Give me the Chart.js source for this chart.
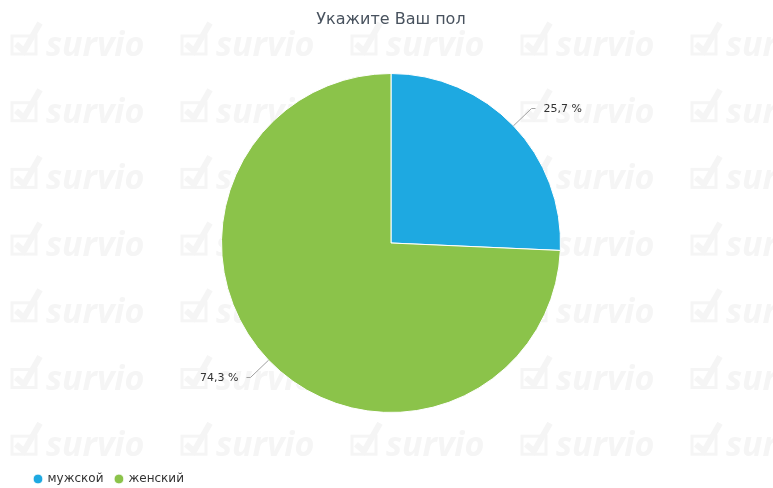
<!DOCTYPE html>
<html><head><meta charset="utf-8">
<script src="https://cdn.jsdelivr.net/npm/chart.js@4/dist/chart.umd.min.js"></script>
<style>html,body{margin:0;padding:0;background:#fff}#wrap{width:773px;height:488px}</style>
</head><body><div id="wrap"><canvas id="c" width="773" height="488"></canvas></div>
<script>
const categories = ['мужской', 'женский'];
const values = [25.7, 74.3];
const sliceColors = ['#1ea9e1', '#8bc34a'];
const titleText = 'Укажите Ваш пол';

const watermark = {
  id: 'watermark',
  beforeDraw(chart) {
    const ctx = chart.ctx;
    ctx.save();
    ctx.fillStyle = '#fff';
    ctx.fillRect(0, 0, chart.width, chart.height);
    ctx.fillStyle = '#f5f5f5';
    ctx.strokeStyle = '#f5f5f5';
    ctx.font = 'italic bold 34px "Open Sans", sans-serif';
    ctx.textBaseline = 'alphabetic';
    for (let r = 0; r < 7; r++) {
      const by = 56 + r * 66.7;
      for (let c = 0; c < 5; c++) {
        const bx = 10 + c * 170;
        ctx.lineWidth = 3;
        ctx.strokeRect(bx + 2, by - 20, 24, 18);
        ctx.lineWidth = 6;
        ctx.beginPath();
        ctx.moveTo(bx + 6, by - 12);
        ctx.lineTo(bx + 14, by - 5);
        ctx.lineTo(bx + 30, by - 33);
        ctx.stroke();
        ctx.fillText('survio', bx + 36, by);
      }
    }
    ctx.restore();
  }
};

const pieLabels = {
  id: 'pieLabels',
  afterDatasetsDraw(chart) {
    const ctx = chart.ctx;
    const meta = chart.getDatasetMeta(0);
    ctx.save();
    meta.data.forEach((arc, i) => {
      const p = arc.getProps(['x', 'y', 'startAngle', 'endAngle', 'outerRadius'], true);
      const mid = (p.startAngle + p.endAngle) / 2;
      const cs = Math.cos(mid), sn = Math.sin(mid);
      const x0 = p.x + cs * p.outerRadius, y0 = p.y + sn * p.outerRadius;
      const x1 = p.x + cs * (p.outerRadius + 25), y1 = p.y + sn * (p.outerRadius + 25);
      const right = cs >= 0;
      const x2 = x1 + (right ? 4 : -4);
      ctx.strokeStyle = '#a0a0a0';
      ctx.lineWidth = 1;
      ctx.beginPath();
      ctx.moveTo(x0, y0);
      ctx.lineTo(x1, y1);
      ctx.lineTo(x2, y1);
      ctx.stroke();
      ctx.fillStyle = '#333';
      ctx.font = '11px "DejaVu Sans", sans-serif';
      ctx.textBaseline = 'middle';
      ctx.textAlign = right ? 'left' : 'right';
      const txt = chart.data.datasets[0].data[i].toFixed(1).replace('.', ',') + ' %';
      ctx.fillText(txt, x2 + (right ? 8 : -8), y1 + 1);
    });
    ctx.restore();
  }
};

new Chart(document.getElementById('c'), {
  type: 'pie',
  data: {
    labels: categories,
    datasets: [{
      data: values,
      backgroundColor: sliceColors,
      borderColor: '#ffffff',
      borderWidth: 1
    }]
  },
  options: {
    responsive: false,
    devicePixelRatio: 1,
    animation: false,
    layout: { padding: { left: 22.5, right: 13.5, top: 0, bottom: -7 } },
    plugins: {
      title: {
        display: true,
        text: titleText,
        color: '#48525e',
        font: { family: '"DejaVu Sans", sans-serif', size: 16, weight: 'normal' },
        padding: { top: 10.5, bottom: 43.3 }
      },
      legend: {
        display: true,
        position: 'bottom',
        align: 'start',
        title: { display: true, text: ' ', font: { size: 12 }, padding: { top: 0, bottom: 33.6 } },
        labels: {
          usePointStyle: true,
          pointStyle: 'circle',
          boxWidth: 7,
          boxHeight: 7,
          padding: 12,
          color: '#333',
          font: { family: '"DejaVu Sans", sans-serif', size: 12 }
        }
      },
      tooltip: { enabled: false }
    }
  },
  plugins: [watermark, pieLabels]
});
</script>
</body></html>
